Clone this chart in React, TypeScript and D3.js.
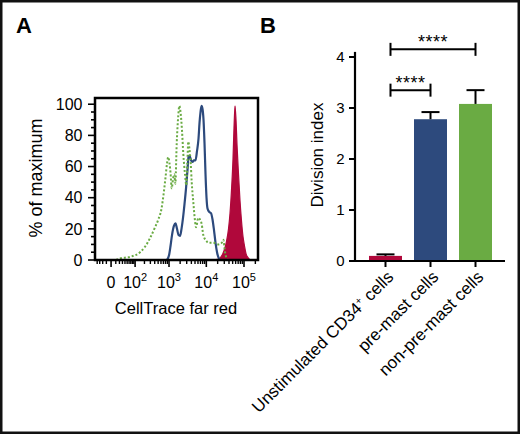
import React from 'react';
import * as d3 from 'd3';

type Pt = [number, number];

// Panel A: CellTrace far red histograms, [fluorescence intensity, % of maximum]
const nonPreMastTrace: Pt[] = [
  [11, 0], [22, 1], [65, 2], [146, 5], [208, 8.5], [293, 14], [409, 21], [506, 26],
  [622, 33], [707, 42], [802, 53], [882, 62], [951, 66], [1032, 62], [1099, 56],
  [1184, 46], [1285, 52], [1393, 55], [1483, 49], [1618, 75], [1786, 93], [1901, 99],
  [2048, 95], [2247, 83], [2435, 68], [2704, 55], [2930, 48], [3117, 62], [3315, 76],
  [3525, 72], [3843, 62], [4086, 50], [4509, 37], [5005, 25], [5320, 21], [6125, 27],
  [6798, 26], [7545, 23], [8322, 16], [10248, 12], [11300, 11], [15346, 11],
  [20838, 10], [25647, 11], [28278, 13], [31365, 5], [34794, 1], [37668, 0],
];

const preMastTrace: Pt[] = [
  [882, 0], [1000, 3], [1099, 9], [1207, 16], [1367, 22], [1502, 23.5], [1648, 20],
  [1809, 16], [1985, 15.5], [2179, 20], [2390, 27], [2623, 36], [2877, 46],
  [3155, 58], [3356, 66], [3569, 67], [3913, 64], [4291, 63], [4706, 64], [5160, 64],
  [5658, 70], [6204, 78], [6594, 88], [7011, 95], [7455, 99], [7926, 97], [8427, 90],
  [8958, 75], [9525, 55], [10128, 40], [10767, 33], [11802, 31], [13341, 30],
  [14625, 26], [16029, 19], [17568, 11], [19257, 5], [21102, 1.5], [23127, 0],
];

const unstimulatedTrace: Pt[] = [
  [3680, 0], [10437, 0], [20454, 0.5], [24565, 2], [29508, 6], [34368, 12],
  [38841, 20], [42567, 30], [46647, 45], [51117, 65], [54333, 85], [57759, 99],
  [61392, 90], [65256, 74], [71514, 55], [78366, 38], [85884, 25], [94113, 15],
  [103134, 9], [113031, 4], [127710, 1.5], [144294, 0],
];

const histYTicks = [0, 20, 40, 60, 80, 100];
const histXTicks = [0, 100, 1000, 10000, 100000];
const histXExponents = ['', '2', '3', '4', '5'];

// Panel B: division index
const categories = ['Unstimulated CD34+ cells', 'pre-mast cells', 'non-pre-mast cells'];
const divisionIndex = [0.1, 2.78, 3.08];
const divisionSem = [0.03, 0.14, 0.27];
const divTicks = [0, 1, 2, 3, 4];
const brackets = [
  { from: 0, to: 1, level: 3.35, label: '****' },
  { from: 0, to: 2, level: 4.15, label: '****' },
];

const RED = '#b0083b';
const BLUE = '#2d4a7d';
const GREEN = '#6aab43';
const barColors = [RED, BLUE, GREEN];
const FONT = '"Liberation Sans", Arial, Helvetica, sans-serif';

const App: React.FC = () => {
  // ---- panel A
  const hx = d3.scaleSymlog().constant(30).domain([-50, 235000]).range([95, 258]);
  const hy = d3.scaleLinear().domain([0, 104]).range([260, 98]);
  const line = d3.line<Pt>().x(d => hx(d[0])).y(d => hy(d[1])).curve(d3.curveMonotoneX);
  const area = d3.area<Pt>().x(d => hx(d[0])).y0(hy(0)).y1(d => hy(d[1])).curve(d3.curveMonotoneX);

  const minorX = [
    ...d3.range(-40, 0, 10),
    ...d3.range(10, 100, 10),
    ...d3.range(200, 1000, 100),
    ...d3.range(2000, 10000, 1000),
    ...d3.range(20000, 100000, 10000),
    200000,
  ];
  const minorY = d3.range(0, 101, 5);

  // ---- panel B
  const bx = d3.scaleBand<string>().domain(categories).range([369, 492]).paddingInner(0.267).paddingOuter(0);
  const by = d3.scaleLinear().domain([0, 4]).range([261, 57]);
  const bw = bx.bandwidth();
  const cx = (i: number) => (bx(categories[i]) as number) + bw / 2;

  return (
    <svg width={520} height={434} style={{ position: 'absolute', left: 0, top: 0, fontFamily: FONT }}>
      <rect x={0} y={0} width={520} height={434} fill="#fff" />
      <rect x={1.25} y={1.25} width={517.5} height={431.5} fill="none" stroke="#111" strokeWidth={2.5} />

      <text x={16} y={33} fontSize={22} fontWeight="bold">A</text>
      <text x={260} y={33} fontSize={22} fontWeight="bold">B</text>

      {/* Panel A */}
      <path d={area(unstimulatedTrace) || ''} fill={RED} stroke={RED} strokeWidth={1.2} />
      <path d={line(preMastTrace) || ''} fill="none" stroke={BLUE} strokeWidth={2.2} />
      <path d={line(nonPreMastTrace) || ''} fill="none" stroke={GREEN} strokeWidth={2} strokeDasharray="2 2" />
      <rect x={95} y={98} width={163} height={162} fill="none" stroke="#000" strokeWidth={2.5} />

      {minorY.map(t => (
        <line key={'my' + t} x1={t % 20 === 0 ? 88 : 91} x2={95} y1={hy(t)} y2={hy(t)} stroke="#000" strokeWidth={1.6} />
      ))}
      {histYTicks.map(t => (
        <text key={'ty' + t} x={82.5} y={hy(t)} dy="0.36em" textAnchor="end" fontSize={16}>{t}</text>
      ))}
      {minorX.map(t => (
        <line key={'mx' + t} x1={hx(t)} x2={hx(t)} y1={260} y2={264} stroke="#000" strokeWidth={1.4} />
      ))}
      {histXTicks.map((t, i) => (
        <g key={'tx' + t}>
          <line x1={hx(t)} x2={hx(t)} y1={260} y2={267} stroke="#000" strokeWidth={1.6} />
          <text x={hx(t)} y={288} textAnchor="middle" fontSize={16}>
            {i === 0 ? '0' : '10'}
            {histXExponents[i] && <tspan dy={-7} fontSize={11}>{histXExponents[i]}</tspan>}
          </text>
        </g>
      ))}
      <text x={176} y={314} textAnchor="middle" fontSize={16.5}>CellTrace far red</text>
      <text transform="translate(42,178) rotate(-90)" textAnchor="middle" fontSize={18}>% of maximum</text>

      {/* Panel B */}
      {categories.map((c, i) => (
        <g key={c}>
          <rect x={bx(c)} y={by(divisionIndex[i])} width={bw} height={by(0) - by(divisionIndex[i])} fill={barColors[i]} />
          <line x1={cx(i)} x2={cx(i)} y1={by(divisionIndex[i])} y2={by(divisionIndex[i] + divisionSem[i])} stroke="#000" strokeWidth={2} />
          <line x1={cx(i) - 9} x2={cx(i) + 9} y1={by(divisionIndex[i] + divisionSem[i])} y2={by(divisionIndex[i] + divisionSem[i])} stroke="#000" strokeWidth={2} />
          <line x1={cx(i)} x2={cx(i)} y1={by(0)} y2={by(0) + 6} stroke="#000" strokeWidth={2} />
        </g>
      ))}
      <line x1={355} x2={355} y1={by(4.1)} y2={by(0) + 1} stroke="#000" strokeWidth={2.2} />
      <line x1={354} x2={505} y1={by(0)} y2={by(0)} stroke="#000" strokeWidth={2.2} />
      {divTicks.map(t => (
        <g key={'dt' + t}>
          <line x1={349} x2={355} y1={by(t)} y2={by(t)} stroke="#000" strokeWidth={2} />
          <text x={344.5} y={by(t)} dy="0.36em" textAnchor="end" fontSize={15}>{t}</text>
        </g>
      ))}
      <text transform="translate(323,155) rotate(-90)" textAnchor="middle" fontSize={17}>Division index</text>

      {categories.map((c, i) => (
        <text key={'xl' + c} transform={`translate(${cx(i) + 9},278) rotate(-45)`} textAnchor="end" fontSize={17}>
          {i === 0 ? (
            <>
              Unstimulated CD34<tspan dy={-6} fontSize={10}>+</tspan>
              <tspan dy={6}> cells</tspan>
            </>
          ) : c}
        </text>
      ))}

      {brackets.map((b, i) => {
        const x1 = cx(b.from) + 5;
        const x2 = cx(b.to);
        const y = by(b.level);
        return (
          <g key={'br' + i}>
            <line x1={x1} x2={x2} y1={y} y2={y} stroke="#000" strokeWidth={2} />
            <line x1={x1} x2={x1} y1={y - 6.5} y2={y + 6.5} stroke="#000" strokeWidth={2} />
            <line x1={x2} x2={x2} y1={y - 6.5} y2={y + 6.5} stroke="#000" strokeWidth={2} />
            <text x={(x1 + x2) / 2} y={y - 1} textAnchor="middle" fontSize={18} letterSpacing={0.5}>{b.label}</text>
          </g>
        );
      })}
    </svg>
  );
};

export default App;
